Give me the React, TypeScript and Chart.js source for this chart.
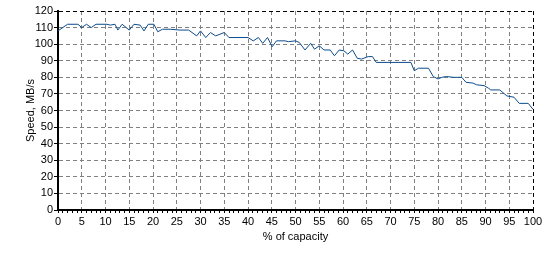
import React, { useEffect, useRef } from "react";
import { Chart, registerables } from "chart.js";

Chart.register(...registerables);

const capacityPct: number[] = [
  0, 2, 4.2, 5, 6, 7, 8, 10.3, 11, 12, 12.6, 13.5, 15, 16, 17.3, 18.1, 19, 20.2, 21, 22,
  23.6, 25.7, 27.5, 29.2, 30, 31.1, 32.1, 33.2, 35, 36, 40, 41.1, 42.2, 43.1, 44.1, 45.1, 46,
  47.8, 48.5, 50, 50.8, 52, 53.2, 54, 55, 56, 57.3, 58.2, 59.2, 60.2, 61, 62, 63, 63.9, 65.3,
  66.2, 67, 74.3, 75, 75.9, 78, 79, 80, 80.8, 81.8, 83.2, 85, 85.9, 87.4, 88.1, 89.7, 90.6,
  91.1, 93, 94.5, 96, 97.1, 99, 100,
];
const speedMBs: number[] = [
  108, 112, 112, 110, 112, 110, 112, 112, 111.5, 112, 108.5, 112, 108.5, 112, 111.5, 108, 112, 112, 107.5, 109,
  109, 108.5, 108.5, 105, 108, 104, 107, 105, 107, 104, 104, 102, 104, 100.5, 104, 98.5, 102,
  102, 101.5, 102, 101, 96.5, 100.5, 97, 99, 96.5, 96.5, 93, 96.5, 96, 94, 96.5, 91.5, 91, 92.5,
  92.5, 89, 89, 84, 85.5, 85.5, 80.5, 79, 80, 80.5, 80, 80, 77, 76.5, 75.5, 75, 73.5,
  72.4, 72.4, 68.8, 68, 64.3, 64.3, 60.7,
];
const xTitle = "% of capacity";
const yTitle = "Speed, MB/s";

export default function App() {
  const ref = useRef<HTMLCanvasElement | null>(null);
  useEffect(() => {
    document.body.style.margin = "0";
    const canvas = ref.current;
    if (!canvas) return;
    const font = { family: "Arial, 'Liberation Sans', sans-serif", size: 11 };
    const chart = new Chart(canvas, {
      type: "line",
      data: {
        datasets: [
          {
            data: capacityPct.map((x, i) => ({ x, y: speedMBs[i] })),
            borderColor: "#0b4c8c",
            borderWidth: 1,
            pointRadius: 0,
            tension: 0,
            fill: false,
          },
        ],
      },
      options: {
        animation: false,
        responsive: false,
        maintainAspectRatio: false,
        layout: { padding: { top: 11, right: 17, left: 0, bottom: 0 } },
        plugins: { legend: { display: false }, tooltip: { enabled: false } },
        scales: {
          x: {
            type: "linear",
            min: 0,
            max: 100,
            afterFit: (s: any) => {
              s.height = 44;
            },
            ticks: {
              stepSize: 1,
              autoSkip: false,
              maxRotation: 0,
              minRotation: 0,
              padding: 2,
              color: "#000",
              font,
              callback: (v: any) => (Number(v) % 5 === 0 ? String(v) : ""),
            },
            grid: {
              color: (c: any) => {
                const v = c.tick ? c.tick.value : 0;
                if (v % 5 !== 0) return "rgba(0,0,0,0)";
                return v === 100 ? "#000" : "#808080";
              },
              tickColor: "#000",
              tickLength: 3,
              lineWidth: 1,
            },
            border: { color: "#000", width: 2, dash: [4, 3] },
            title: { display: true, text: xTitle, color: "#000", font, padding: { top: 0, bottom: 10 } },
          },
          y: {
            type: "linear",
            min: 0,
            max: 120,
            afterFit: (s: any) => {
              s.width = 58;
            },
            ticks: { stepSize: 10, color: "#000", font, padding: 1 },
            grid: {
              color: (c: any) => (c.tick && c.tick.value === 120 ? "#000" : "#808080"),
              tickColor: "#000",
              tickLength: 4,
              lineWidth: 1,
            },
            border: { color: "#000", width: 2, dash: [4, 3] },
            title: { display: true, text: yTitle, color: "#000", font, padding: { top: 24, bottom: 0 } },
          },
        },
      },
    });
    return () => chart.destroy();
  }, []);
  return (
    <div style={{ width: 550, height: 254, background: "#fff" }}>
      <canvas ref={ref} width={550} height={254} style={{ width: 550, height: 254 }} />
    </div>
  );
}
